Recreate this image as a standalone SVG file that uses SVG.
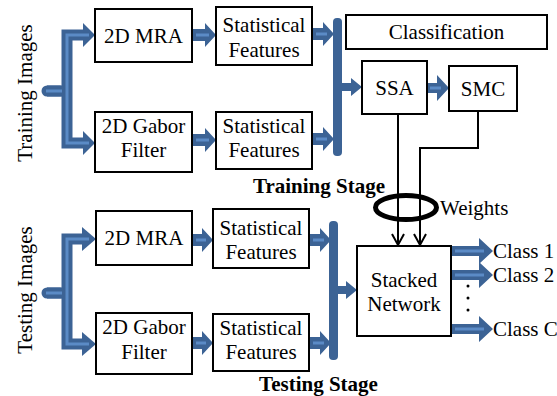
<svg xmlns="http://www.w3.org/2000/svg" width="557" height="396" viewBox="0 0 557 396">
<style>
.box{fill:#fff;stroke:#000;stroke-width:2}
text{font-family:"Liberation Serif","Times New Roman",Times,serif;font-size:21px;fill:#000}
.t{text-anchor:middle}
.b{font-weight:bold}
.dk{fill:#3c6395}
.dks{fill:none;stroke:#3c6395;stroke-width:11}
.lt{fill:none;stroke:#5b8bc6;stroke-width:3}
.ln{fill:none;stroke:#000;stroke-width:2}
</style>
<rect width="557" height="396" fill="#fff"/>
<g id="connectors">
  <path class="dks" d="M47 91H67M84 35H67V143H84" stroke-linejoin="miter"/>
  <path class="dks" d="M47 91H60" stroke-linecap="round"/>
  <polygon class="dk" points="83,23 95,35 83,47"/>
  <polygon class="dk" points="83,131 95,143 83,155"/>
  <path class="lt" d="M46 91H62M89 35H67V143H89"/>
  <path class="dks" d="M47 293H67M84 239H67V344H84"/>
  <path class="dks" d="M47 293H60" stroke-linecap="round"/>
  <polygon class="dk" points="82,227 96,239 82,251"/>
  <polygon class="dk" points="82,332 96,344 82,356"/>
  <path class="lt" d="M46 293H62M89 239H67V344H89"/>
  <polygon class="dk" points="192,29 205,29 205,23 216,35 205,47 205,41 192,41"/><path class="lt" d="M196 35H209"/>
  <polygon class="dk" points="312,28 323,28 323,22 334,34 323,46 323,40 312,40"/><path class="lt" d="M316 34H327"/>
  <polygon class="dk" points="192,134 205,134 205,128 216,140 205,152 205,146 192,146"/><path class="lt" d="M196 140H209"/>
  <polygon class="dk" points="312,133 323,133 323,127 334,139 323,151 323,145 312,145"/><path class="lt" d="M316 139H327"/>
  <polygon class="dk" points="192,234 202,234 202,228 213,240 202,252 202,246 192,246"/><path class="lt" d="M196 240H206"/>
  <polygon class="dk" points="309,234 320,234 320,228 331,240 320,252 320,246 309,246"/><path class="lt" d="M313 240H324"/>
  <polygon class="dk" points="192,337 202,337 202,331 213,343 202,355 202,349 192,349"/><path class="lt" d="M196 343H206"/>
  <polygon class="dk" points="309,337 320,337 320,331 331,343 320,355 320,349 309,349"/><path class="lt" d="M313 343H324"/>
  <rect class="dk" x="333" y="18" width="9" height="138" rx="4"/>
  <polygon class="dk" points="340,83 351,83 351,78 362,87 351,96 351,91 340,91"/>
  <rect class="dk" x="329" y="221" width="9" height="139" rx="4"/>
  <polygon class="dk" points="336,286 346,286 346,281 357,290 346,299 346,294 336,294"/>
  <polygon class="dk" points="427,83 437,83 437,75 449,88 437,101 437,93 427,93"/><path class="lt" d="M430 88H441"/>
  <polygon class="dk" points="451,246 479,246 479,238 493,251 479,264 479,256 451,256"/><path class="lt" d="M455 251H484"/>
  <polygon class="dk" points="451,270 479,270 479,262 493,275 479,288 479,280 451,280"/><path class="lt" d="M455 275H484"/>
  <polygon class="dk" points="451,324 479,324 479,316 493,329 479,342 479,334 451,334"/><path class="lt" d="M455 329H484"/>
  <path class="ln" d="M398 114V245"/>
  <path class="ln" d="M478 111V148H420V245"/>
  <polyline class="ln" points="392,234 398,245 404,234"/>
  <polyline class="ln" points="414,234 420,245 426,234"/>
  <ellipse cx="406" cy="207.5" rx="30.5" ry="12" fill="none" stroke="#000" stroke-width="5"/>
  <circle cx="468" cy="286" r="1.5" fill="#000"/>
  <circle cx="468" cy="298" r="1.5" fill="#000"/>
  <circle cx="468" cy="310" r="1.5" fill="#000"/>
</g>
<g font-family="Liberation Serif, Times New Roman, serif" font-size="21">
<text class="t" transform="translate(32,93) rotate(-90)">Training Images</text>
<text class="t" transform="translate(32,290) rotate(-90)">Testing Images</text>
<g id="mra1"><rect class="box" x="95" y="9" width="97" height="53"/><text class="t" x="143.5" y="43">2D MRA</text></g>
<g id="gabor1"><rect class="box" x="95" y="112" width="97" height="60"/><text class="t" x="143.5" y="133">2D Gabor</text><text class="t" x="143.5" y="157">Filter</text></g>
<g id="sf1"><rect class="box" x="216" y="7" width="96" height="58"/><text class="t" x="264" y="32">Statistical</text><text class="t" x="264" y="57">Features</text></g>
<g id="sf2"><rect class="box" x="216" y="112" width="96" height="57"/><text class="t" x="264" y="133">Statistical</text><text class="t" x="264" y="157">Features</text></g>
<g id="classification"><rect class="box" x="346" y="15" width="201" height="34"/><text class="t" x="446.5" y="39">Classification</text></g>
<g id="ssa"><rect class="box" x="362" y="61" width="65" height="53"/><text class="t" x="394.5" y="95">SSA</text></g>
<g id="smc"><rect class="box" x="449" y="66" width="68" height="45"/><text class="t" x="483" y="96">SMC</text></g>
<text class="t b" x="319" y="193">Training Stage</text>
<text x="440" y="215">Weights</text>
<g id="mra2"><rect class="box" x="96" y="211" width="96" height="54"/><text class="t" x="144" y="245">2D MRA</text></g>
<g id="gabor2"><rect class="box" x="96" y="313" width="96" height="61"/><text class="t" x="144" y="334">2D Gabor</text><text class="t" x="144" y="359">Filter</text></g>
<g id="sf3"><rect class="box" x="213" y="209" width="96" height="59"/><text class="t" x="261" y="235">Statistical</text><text class="t" x="261" y="259">Features</text></g>
<g id="sf4"><rect class="box" x="213" y="314" width="96" height="57"/><text class="t" x="261" y="335">Statistical</text><text class="t" x="261" y="359">Features</text></g>
<g id="stacked"><rect class="box" x="357" y="246" width="94" height="90"/><text class="t" x="404" y="287">Stacked</text><text class="t" x="404" y="311">Network</text></g>
<text x="493" y="258">Class 1</text>
<text x="493" y="282">Class 2</text>
<text x="493" y="336">Class C</text>
<text class="t b" x="318.5" y="391">Testing Stage</text>
</g>
</svg>
